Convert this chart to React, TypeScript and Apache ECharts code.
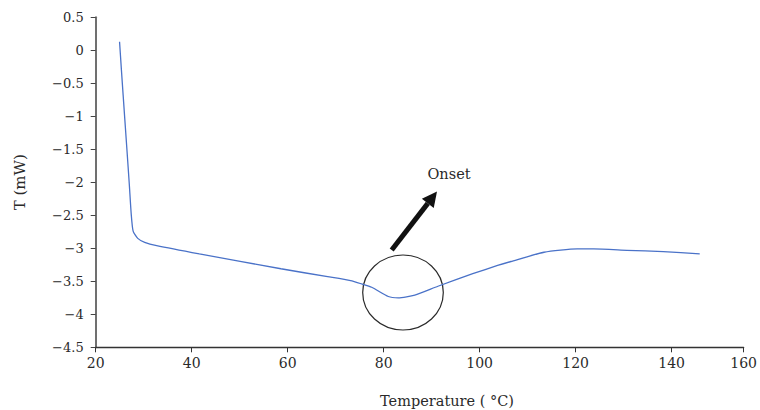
import React, { useEffect, useRef } from "react";
import * as echarts from "echarts";

// Temperature (°C) and T (mW)
const temperature = [
  24.97, 25.36, 26.07, 26.5, 27.0, 27.41, 27.8, 28.76, 30.21, 32.7,
  41.6, 58.59, 68.32, 73.09, 75.43, 77.5, 80.96, 83.03, 86.49, 91.31,
  98.56, 103.74, 106.5, 113.41, 120.31, 123.77, 130.66, 138.27, 145.85,
];
const heatFlow = [
  0.13, -0.3, -1.05, -1.5, -2.03, -2.49, -2.74, -2.85, -2.91, -2.96,
  -3.085, -3.31, -3.43, -3.49, -3.54, -3.59, -3.73, -3.75, -3.71, -3.575,
  -3.385, -3.26, -3.2, -3.06, -3.01, -3.01, -3.03, -3.05, -3.085,
];

const xMin = 20;
const xMax = 155; // axis end, labelled "160" in the reference
const xEndLabel = "160";
const yMin = -4.5;
const yMax = 0.5;

const xTitle = "Temperature ( °C)";
const yTitle = "T (mW)";
const onsetLabel = "Onset";

const FONT = "'DejaVu Serif', 'Liberation Serif', serif";

export default function App() {
  const ref = useRef<HTMLDivElement>(null);

  useEffect(() => {
    if (!ref.current) return;
    const chart = echarts.init(ref.current, undefined, { renderer: "svg" });

    const points = temperature.map((t, i) => [t, heatFlow[i]]);

    // arrow geometry
    const tail = [391.7, 250];
    const tip = [437, 191.5];
    const dx = tip[0] - tail[0];
    const dy = tip[1] - tail[1];
    const len = Math.hypot(dx, dy);
    const ux = dx / len;
    const uy = dy / len;
    const px = -uy;
    const py = ux;
    const headLen = 15;
    const headHalf = 7.5;
    const base = [tip[0] - headLen * ux, tip[1] - headLen * uy];

    chart.setOption({
      animation: false,
      grid: { left: 95.7, right: 12.7, top: 17.3, bottom: 62.7, containLabel: false },
      xAxis: {
        type: "value",
        min: xMin,
        max: xMax,
        interval: 20,
        axisLine: { onZero: false, lineStyle: { color: "#333", width: 1.3 } },
        axisTick: { show: true, length: 5, lineStyle: { color: "#333", width: 1 } },
        axisLabel: {
          color: "#2a2a2a",
          fontFamily: FONT,
          fontSize: 14,
          margin: 9,
          formatter: (v: number) => (v === xMax ? xEndLabel : String(v)),
        },
        splitLine: { show: false },
      },
      yAxis: {
        type: "value",
        min: yMin,
        max: yMax,
        interval: 0.5,
        name: yTitle,
        nameLocation: "middle",
        nameGap: 68,
        nameRotate: 90,
        nameTextStyle: { color: "#2a2a2a", fontFamily: FONT, fontSize: 15 },
        axisLine: { onZero: false, lineStyle: { color: "#707070", width: 2 } },
        axisTick: { show: true, length: 5, lineStyle: { color: "#444", width: 1 } },
        axisLabel: {
          color: "#2a2a2a",
          fontFamily: FONT,
          fontSize: 13,
          margin: 12,
          formatter: (v: number) => String(v).replace("-", "\u2212"),
        },
        splitLine: { show: false },
      },
      series: [
        {
          type: "line",
          data: points,
          showSymbol: false,
          smooth: 0.2,
          lineStyle: { color: "#4a72c8", width: 1.3 },
        },
      ],
      graphic: [
        {
          type: "ellipse",
          shape: { cx: 403, cy: 292.5, rx: 40.3, ry: 37.5 },
          style: { fill: "none", stroke: "#2a2a2a", lineWidth: 1.2 },
        },
        {
          type: "line",
          shape: { x1: tail[0], y1: tail[1], x2: base[0], y2: base[1] },
          style: { stroke: "#111", lineWidth: 5 },
        },
        {
          type: "polygon",
          shape: {
            points: [
              tip,
              [base[0] + headHalf * px, base[1] + headHalf * py],
              [base[0] - headHalf * px, base[1] - headHalf * py],
            ],
          },
          style: { fill: "#111" },
        },
        {
          type: "text",
          x: 449,
          y: 174,
          style: {
            text: onsetLabel,
            fill: "#2a2a2a",
            font: `14.5px ${FONT}`,
            align: "center",
            verticalAlign: "middle",
          },
        },
        {
          type: "text",
          x: 447,
          y: 401,
          style: {
            text: xTitle,
            fill: "#2a2a2a",
            font: `14.5px ${FONT}`,
            align: "center",
            verticalAlign: "middle",
          },
        },
      ],
    });

    return () => chart.dispose();
  }, []);

  return <div ref={ref} style={{ width: 760, height: 410, position: "absolute", left: 0, top: 0 }} />;
}
